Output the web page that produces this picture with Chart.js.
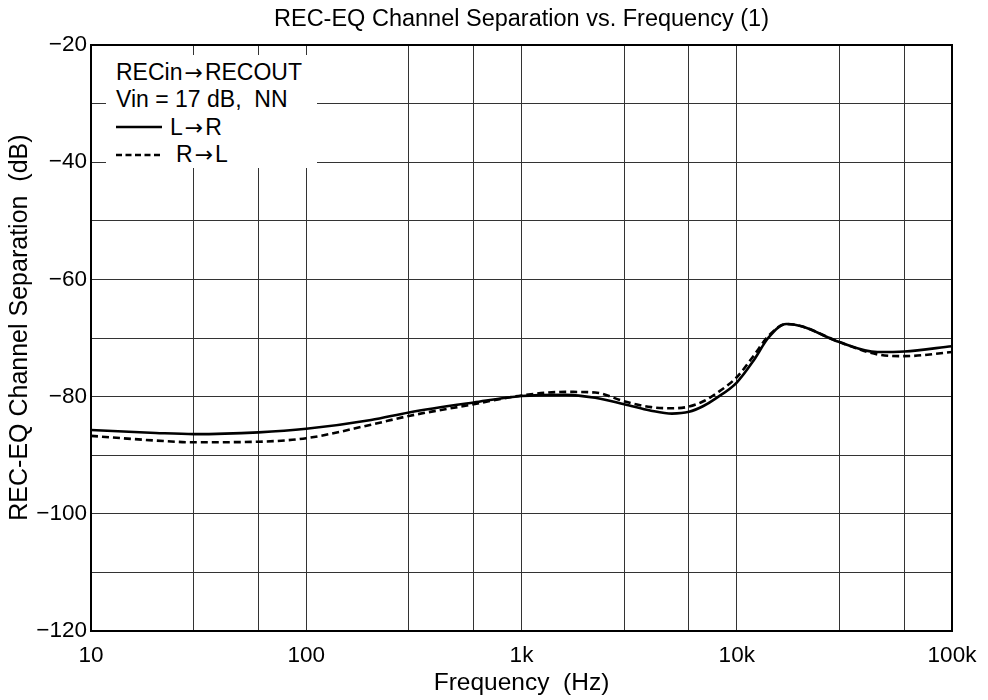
<!DOCTYPE html>
<html>
<head>
<meta charset="utf-8">
<script src="https://cdn.jsdelivr.net/npm/chart.js@4/dist/chart.umd.min.js"></script>
<style>
  html, body { margin: 0; padding: 0; background: #fff; }
  #wrap { position: relative; width: 988px; height: 700px; }
  #legendBox {
    position: absolute; left: 106px; top: 55px; width: 211px; height: 113px;
    background: #fff; box-sizing: border-box; padding: 4px 0 0 10px;
    font-family: "Liberation Sans", Arial, sans-serif; font-size: 23px; line-height: 27.3px; color: #000;
  }
  #legendBox .row { white-space: pre; height: 27.3px; display: flex; align-items: center; }
  #legendBox svg { margin-right: 8px; }
  #legendBox .ar { font-family: "DejaVu Sans", sans-serif; font-size: 22px; margin: 0 2px; }
</style>
</head>
<body>
<div id="wrap">
  <canvas id="c"></canvas>
  <div id="legendBox">
    <div class="row">RECin<span class="ar">→</span>RECOUT</div>
    <div class="row">Vin = 17 dB,  NN</div>
    <div class="row"><svg width="46" height="6"><line x1="0" y1="3" x2="46" y2="3" stroke="#000" stroke-width="2.5"/></svg>L<span class="ar">→</span>R</div>
    <div class="row"><svg width="52" height="6"><line x1="0" y1="3" x2="44" y2="3" stroke="#000" stroke-width="2.5" stroke-dasharray="6,3.5"/></svg>R<span class="ar">→</span>L</div>
  </div>
</div>
<script>
// ---- data ----
const freqs = [10, 20, 30, 60, 100, 200, 300, 600, 1000, 1600, 2200, 3000, 4000, 5000, 6000, 7000, 8000, 10000, 12000, 14000, 17000, 20000, 30000, 45000, 60000, 100000];
const lrValues = [-85.7, -86.2, -86.4, -86.1, -85.5, -84.0, -82.7, -81.0, -79.9, -79.7, -80.2, -81.3, -82.4, -82.9, -82.6, -81.6, -80.3, -77.6, -73.8, -70.0, -67.6, -68.0, -70.7, -72.4, -72.3, -71.4];
const rlValues = [-86.7, -87.5, -87.8, -87.7, -87.1, -84.8, -83.3, -81.3, -79.8, -79.2, -79.3, -80.8, -81.8, -82.0, -81.7, -80.8, -79.5, -76.7, -73.0, -69.7, -67.6, -68.0, -70.7, -72.8, -73.1, -72.4];
const xGridTicks = [10, 30, 60, 100, 300, 600, 1000, 3000, 6000, 10000, 30000, 60000, 100000];
const xTickLabels = {10: '10', 100: '100', 1000: '1k', 10000: '10k', 100000: '100k'};
const yMin = -120, yMax = -20, yStep = 10, yLabelStep = 20;
const seriesNames = ['L→R', 'R→L'];

const FONT = '"Liberation Sans", Arial, sans-serif';

const framePlugin = {
  id: 'frame',
  afterDatasetsDraw(chart) {
    const {ctx, chartArea: a} = chart;
    ctx.save();
    ctx.strokeStyle = '#000';
    ctx.lineWidth = 2;
    ctx.strokeRect(a.left, a.top, a.right - a.left, a.bottom - a.top);
    ctx.restore();
  }
};

new Chart(document.getElementById('c'), {
  type: 'line',
  data: {
    datasets: [
      {
        label: seriesNames[0],
        data: freqs.map((f, i) => ({x: f, y: lrValues[i]})),
        borderColor: '#000', borderWidth: 2.6, pointRadius: 0,
        cubicInterpolationMode: 'monotone', fill: false
      },
      {
        label: seriesNames[1],
        data: freqs.map((f, i) => ({x: f, y: rlValues[i]})),
        borderColor: '#000', borderWidth: 2.6, borderDash: [7, 4], pointRadius: 0,
        cubicInterpolationMode: 'monotone', fill: false
      }
    ]
  },
  options: {
    responsive: true,
    maintainAspectRatio: false,
    animation: false,
    layout: { padding: { left: 0, right: 36, top: 0, bottom: 0 } },
    plugins: {
      legend: { display: false },
      tooltip: { enabled: false },
      title: {
        display: true,
        fullSize: false,
        text: 'REC-EQ Channel Separation vs. Frequency (1)',
        color: '#000',
        font: { family: FONT, size: 23.5, weight: 'normal' },
        padding: { top: 5, bottom: 11.8 }
      }
    },
    scales: {
      x: {
        type: 'logarithmic',
        min: 10, max: 100000,
        afterFit(scale) { scale.height = 69; },
        afterBuildTicks(scale) { scale.ticks = xGridTicks.map(v => ({value: v})); },
        grid: { color: '#333', lineWidth: 1, drawTicks: false },
        border: { display: false },
        ticks: {
          autoSkip: false, maxRotation: 0, padding: 11, color: '#000',
          font: { family: FONT, size: 22.5 },
          callback(v) { return xTickLabels[v] !== undefined ? xTickLabels[v] : ''; }
        },
        title: {
          display: true, text: 'Frequency  (Hz)', color: '#000',
          font: { family: FONT, size: 24.5 }, padding: { top: 0, bottom: 2 }
        }
      },
      y: {
        type: 'linear',
        min: yMin, max: yMax,
        afterFit(scale) { scale.width = 91; },
        grid: { color: '#333', lineWidth: 1, drawTicks: false },
        border: { display: false },
        ticks: {
          stepSize: yStep, padding: 4, color: '#000',
          font: { family: FONT, size: 22.5 },
          callback(v) { return v % yLabelStep === 0 ? '\u2212' + Math.abs(v) : ''; }
        },
        title: {
          display: true, text: '   REC-EQ Channel Separation  (dB)', color: '#000',
          font: { family: FONT, size: 25 }, padding: { top: 5, bottom: 0 }
        }
      }
    }
  },
  plugins: [framePlugin]
});
</script>
</body>
</html>
